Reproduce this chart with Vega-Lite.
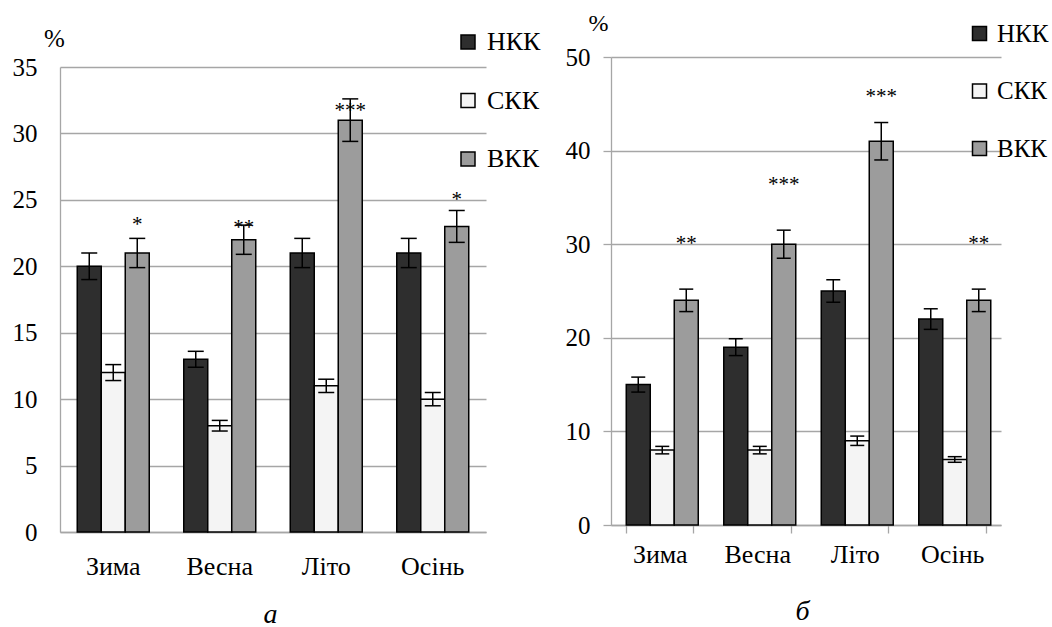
{
  "$schema": "https://vega.github.io/schema/vega-lite/v6.json",
  "padding": {"left": 12, "top": 11, "right": 0, "bottom": 0},
  "background": "white",
  "bounds": "flush",
  "spacing": 125,
  "datasets": {
    "a": [
      {"season": "Зима", "group": "НКК", "value": 20, "lo": 19.0, "hi": 21.0, "stars": "", "star_y": null},
      {"season": "Зима", "group": "СКК", "value": 12, "lo": 11.4, "hi": 12.6, "stars": "", "star_y": null},
      {"season": "Зима", "group": "ВКК", "value": 21, "lo": 19.9, "hi": 22.1, "stars": "*", "star_y": 23.3},
      {"season": "Весна", "group": "НКК", "value": 13, "lo": 12.4, "hi": 13.6, "stars": "", "star_y": null},
      {"season": "Весна", "group": "СКК", "value": 8, "lo": 7.6, "hi": 8.4, "stars": "", "star_y": null},
      {"season": "Весна", "group": "ВКК", "value": 22, "lo": 20.9, "hi": 23.1, "stars": "**", "star_y": 23.1},
      {"season": "Літо", "group": "НКК", "value": 21, "lo": 19.9, "hi": 22.1, "stars": "", "star_y": null},
      {"season": "Літо", "group": "СКК", "value": 11, "lo": 10.5, "hi": 11.5, "stars": "", "star_y": null},
      {"season": "Літо", "group": "ВКК", "value": 31, "lo": 29.4, "hi": 32.6, "stars": "***", "star_y": 31.9},
      {"season": "Осінь", "group": "НКК", "value": 21, "lo": 19.9, "hi": 22.1, "stars": "", "star_y": null},
      {"season": "Осінь", "group": "СКК", "value": 10, "lo": 9.5, "hi": 10.5, "stars": "", "star_y": null},
      {"season": "Осінь", "group": "ВКК", "value": 23, "lo": 21.8, "hi": 24.2, "stars": "*", "star_y": 25.2}
    ],
    "b": [
      {"season": "Зима", "group": "НКК", "value": 15, "lo": 14.2, "hi": 15.8, "stars": "", "star_y": null},
      {"season": "Зима", "group": "СКК", "value": 8, "lo": 7.6, "hi": 8.4, "stars": "", "star_y": null},
      {"season": "Зима", "group": "ВКК", "value": 24, "lo": 22.8, "hi": 25.2, "stars": "**", "star_y": 30.3},
      {"season": "Весна", "group": "НКК", "value": 19, "lo": 18.1, "hi": 19.9, "stars": "", "star_y": null},
      {"season": "Весна", "group": "СКК", "value": 8, "lo": 7.6, "hi": 8.4, "stars": "", "star_y": null},
      {"season": "Весна", "group": "ВКК", "value": 30, "lo": 28.5, "hi": 31.5, "stars": "***", "star_y": 36.6},
      {"season": "Літо", "group": "НКК", "value": 25, "lo": 23.8, "hi": 26.2, "stars": "", "star_y": null},
      {"season": "Літо", "group": "СКК", "value": 9, "lo": 8.5, "hi": 9.5, "stars": "", "star_y": null},
      {"season": "Літо", "group": "ВКК", "value": 41, "lo": 39.0, "hi": 43.0, "stars": "***", "star_y": 46.0},
      {"season": "Осінь", "group": "НКК", "value": 22, "lo": 20.9, "hi": 23.1, "stars": "", "star_y": null},
      {"season": "Осінь", "group": "СКК", "value": 7, "lo": 6.7, "hi": 7.3, "stars": "", "star_y": null},
      {"season": "Осінь", "group": "ВКК", "value": 24, "lo": 22.8, "hi": 25.2, "stars": "**", "star_y": 30.3}
    ]
  },
  "hconcat": [
    {
      "width": 426,
      "height": 475,
      "data": {"name": "a"},
      "encoding": {
        "x": {
          "field": "season", "type": "nominal", "sort": ["Зима", "Весна", "Літо", "Осінь"],
          "scale": {"paddingInner": 0.324, "paddingOuter": 0.162},
          "axis": {
            "title": "а", "titleFont": "Liberation Serif", "titleFontStyle": "italic", "titleFontSize": 28,
            "titleFontWeight": "normal", "titleColor": "black", "titleX": 210, "titleY": 90,
            "titleBaseline": "alphabetic", "titleAlign": "center",
            "labelFontSize": 26,
            "labelAngle": 0, "ticks": false, "labelPadding": 21, "grid": false
          }
        },
        "xOffset": {"field": "group", "type": "nominal", "sort": ["НКК", "СКК", "ВКК"], "scale": {"paddingInner": 0, "paddingOuter": 0}}
      },
      "layer": [
        {
          "mark": {"type": "bar", "stroke": "black", "strokeWidth": 1.5},
          "encoding": {
            "y": {
              "field": "value", "type": "quantitative", "title": "%",
              "scale": {"domain": [0, 35], "range": [475, 10], "nice": false, "zero": true},
              "axis": {
                "values": [0, 5, 10, 15, 20, 25, 30, 35], "ticks": false, "labelPadding": 23, "grid": true,
                "labelFontSize": 25,
                "title": "%", "titleAngle": 0, "titleX": -6, "titleY": -19, "titleAlign": "center",
                "titleBaseline": "middle", "titleFontSize": 25, "titleFont": "Liberation Serif",
                "titleFontWeight": "normal", "titleColor": "black"
              }
            },
            "color": {
              "field": "group", "type": "nominal",
              "scale": {"domain": ["НКК", "СКК", "ВКК"], "range": ["#2e2e2e", "#f4f4f4", "#9c9c9c"]},
              "legend": {
                "orient": "none", "legendX": 395, "legendY": -28, "title": null, "symbolType": "square",
                "symbolSize": 196, "symbolStrokeColor": "black", "symbolStrokeWidth": 1.5,
                "labelFont": "Liberation Serif", "labelFontSize": 26, "labelColor": "black",
                "rowPadding": 32.5, "labelOffset": 6
              }
            }
          }
        },
        {
          "mark": {"type": "rule", "strokeWidth": 1.5, "color": "black"},
          "encoding": {"y": {"field": "lo", "type": "quantitative", "title": "%"}, "y2": {"field": "hi"}}
        },
        {
          "mark": {"type": "tick", "thickness": 1.5, "size": 16, "color": "black", "opacity": 1},
          "encoding": {"y": {"field": "lo", "type": "quantitative", "title": "%"}}
        },
        {
          "mark": {"type": "tick", "thickness": 1.5, "size": 16, "color": "black", "opacity": 1},
          "encoding": {"y": {"field": "hi", "type": "quantitative", "title": "%"}}
        },
        {
          "transform": [{"filter": "datum.stars != ''"}],
          "mark": {"type": "text", "font": "Liberation Serif", "fontSize": 21, "baseline": "middle", "dy": 3, "color": "black"},
          "encoding": {"y": {"field": "star_y", "type": "quantitative", "title": "%"}, "text": {"field": "stars"}}
        }
      ]
    },
    {
      "width": 390,
      "height": 468,
      "data": {"name": "b"},
      "encoding": {
        "x": {
          "field": "season", "type": "nominal", "sort": ["Зима", "Весна", "Літо", "Осінь"],
          "scale": {"paddingInner": 0.313, "paddingOuter": 0.1565},
          "axis": {
            "title": "б", "titleFont": "Liberation Serif", "titleFontStyle": "italic", "titleFontSize": 28,
            "titleFontWeight": "normal", "titleColor": "black", "titleX": 191, "titleY": 94,
            "titleBaseline": "alphabetic", "titleAlign": "center",
            "labelFontSize": 26,
            "labelAngle": 0, "ticks": true, "tickBand": "extent", "tickSize": 8, "labelPadding": 8, "grid": false
          }
        },
        "xOffset": {"field": "group", "type": "nominal", "sort": ["НКК", "СКК", "ВКК"], "scale": {"paddingInner": 0, "paddingOuter": 0}}
      },
      "layer": [
        {
          "mark": {"type": "bar", "stroke": "black", "strokeWidth": 1.5},
          "encoding": {
            "y": {
              "field": "value", "type": "quantitative", "title": "%",
              "scale": {"domain": [0, 50], "nice": false, "zero": true},
              "axis": {
                "values": [0, 10, 20, 30, 40, 50], "ticks": true, "tickSize": 8, "labelPadding": 13, "grid": true,
                "labelFontSize": 25,
                "title": "%", "titleAngle": 0, "titleX": -13, "titleY": -34, "titleAlign": "center",
                "titleBaseline": "middle", "titleFontSize": 24, "titleFont": "Liberation Serif",
                "titleFontWeight": "normal", "titleColor": "black"
              }
            },
            "color": {
              "field": "group", "type": "nominal",
              "scale": {"domain": ["НКК", "СКК", "ВКК"], "range": ["#2e2e2e", "#f4f4f4", "#9c9c9c"]},
              "legend": {
                "orient": "none", "legendX": 356, "legendY": -36, "title": null, "symbolType": "square",
                "symbolSize": 196, "symbolStrokeColor": "black", "symbolStrokeWidth": 1.5,
                "labelFont": "Liberation Serif", "labelFontSize": 25, "labelColor": "black",
                "rowPadding": 31.5, "labelOffset": 5
              }
            }
          }
        },
        {
          "mark": {"type": "rule", "strokeWidth": 1.5, "color": "black"},
          "encoding": {"y": {"field": "lo", "type": "quantitative", "title": "%"}, "y2": {"field": "hi"}}
        },
        {
          "mark": {"type": "tick", "thickness": 1.5, "size": 14, "color": "black", "opacity": 1},
          "encoding": {"y": {"field": "lo", "type": "quantitative", "title": "%"}}
        },
        {
          "mark": {"type": "tick", "thickness": 1.5, "size": 14, "color": "black", "opacity": 1},
          "encoding": {"y": {"field": "hi", "type": "quantitative", "title": "%"}}
        },
        {
          "transform": [{"filter": "datum.stars != ''"}],
          "mark": {"type": "text", "font": "Liberation Serif", "fontSize": 21, "baseline": "middle", "dy": 3, "color": "black"},
          "encoding": {"y": {"field": "star_y", "type": "quantitative", "title": "%"}, "text": {"field": "stars"}}
        }
      ]
    }
  ],
  "resolve": {
    "scale": {"color": "independent", "y": "independent", "x": "independent"},
    "legend": {"color": "independent"}
  },
  "config": {
    "view": {"stroke": null},
    "font": "Liberation Serif",
    "axis": {
      "labelFont": "Liberation Serif", "labelColor": "black",
      "gridColor": "#a6a6a6", "gridWidth": 1.3, "domainColor": "#a6a6a6", "domainWidth": 1.3,
      "tickColor": "#a6a6a6", "tickWidth": 1.3
    }
  }
}
